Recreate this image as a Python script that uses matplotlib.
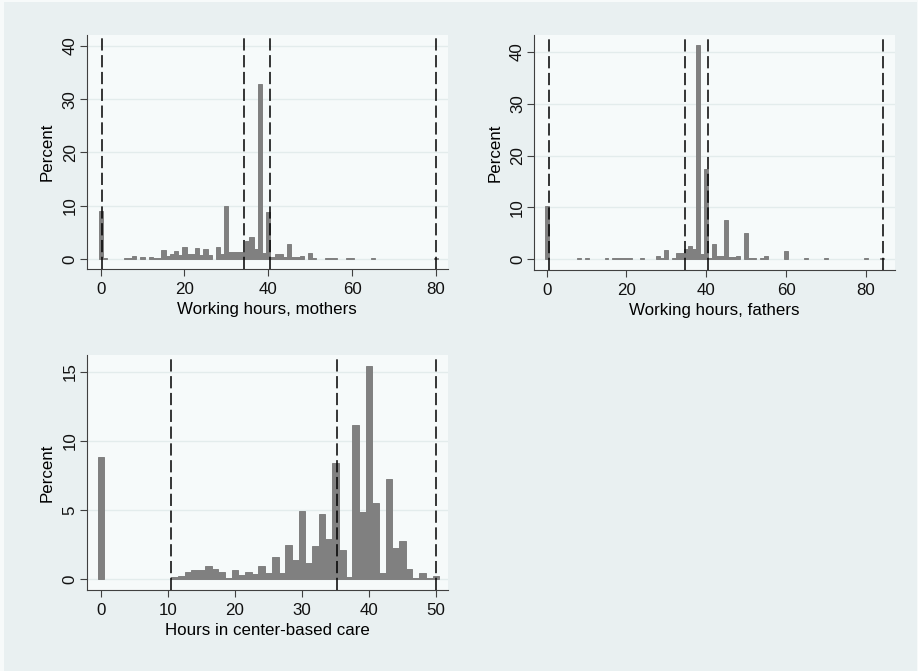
import matplotlib
matplotlib.use('Agg')
import matplotlib.pyplot as plt
from matplotlib.patches import Rectangle

plt.rcParams['font.family'] = ['Liberation Sans', 'DejaVu Sans']

mothers_hours = [0, 1, 6, 7, 8, 10, 12, 13, 14, 15, 16, 17, 18, 19, 20, 21, 22, 23,
                 24, 25, 26, 28, 29, 30, 31, 32, 33, 34, 35, 36, 37, 38, 39, 40, 41,
                 42, 43, 44, 45, 46, 47, 48, 50, 51, 54, 55, 56, 59, 60, 65, 80]
mothers_pct = [9.0, 0.25, 0.2, 0.25, 0.5, 0.3, 0.3, 0.15, 0.15, 1.7, 0.55, 0.95, 1.45,
               0.75, 2.2, 0.95, 0.95, 2.0, 0.8, 1.8, 0.75, 2.3, 0.9, 10.0, 1.2, 1.25,
               1.2, 1.2, 3.4, 4.1, 1.8, 32.8, 1.1, 8.75, 0.4, 0.95, 0.95, 0.3, 2.8,
               0.3, 0.3, 0.45, 1.05, 0.2, 0.2, 0.2, 0.2, 0.2, 0.2, 0.25, 0.2]
mothers_cuts = [0.3, 34.3, 40.3, 80.1]

fathers_hours = [0, 8, 10, 15, 17, 18, 19, 20, 21, 24, 28, 29, 30, 32, 33, 34, 35, 36,
                 37, 38, 39, 40, 41, 42, 43, 44, 45, 46, 47, 48, 50, 51, 52, 54, 55,
                 60, 65, 70, 80, 84]
fathers_pct = [10.2, 0.15, 0.15, 0.15, 0.15, 0.15, 0.15, 0.15, 0.15, 0.15, 0.58, 0.2,
               1.74, 0.3, 1.1, 1.2, 1.87, 2.58, 1.9, 41.3, 1.0, 17.4, 0.3, 2.9, 0.7,
               0.7, 7.55, 0.35, 0.35, 0.55, 5.1, 0.25, 0.25, 0.2, 0.55, 1.5, 0.2, 0.2,
               0.2, 0.3]
fathers_cuts = [0.6, 34.6, 40.5, 84.2]

care_hours = [0] + list(range(11, 51))
care_pct = [8.85, 0.15, 0.24, 0.48, 0.65, 0.65, 0.94, 0.75, 0.5, 0.05, 0.65, 0.27,
            0.5, 0.36, 0.94, 0.46, 1.62, 0.46, 2.48, 1.37, 4.94, 1.18, 2.41, 4.7,
            2.9, 8.42, 2.1, 0.17, 11.1, 4.82, 15.4, 5.47, 0.41, 7.23, 2.22, 2.77,
            0.75, 0.05, 0.41, 0.05, 0.24]
care_cuts = [10.45, 35.25, 50.0]

W, H = 918, 671
FS = 12.2
fig = plt.figure(figsize=(W / 100, H / 100), dpi=100, facecolor='#f7fafa')
fig.patches.append(Rectangle((4 / W, 0), 913 / W, 669 / H, transform=fig.transFigure,
                             facecolor='#e9f0f1', edgecolor='none', zorder=-10))


def draw_panel(box, hours, pct, cuts, xlim, ylim, xticks, yticks, xlabel):
    left, top, right, bottom = box
    ax = fig.add_axes([left / W, 1 - bottom / H, (right - left) / W, (bottom - top) / H])
    ax.set_facecolor('#f6fafa')
    ax.bar(hours, pct, width=1.0, color='#808080', edgecolor='#808080',
           linewidth=0.7, zorder=2)
    for c in cuts:
        ax.axvline(c, color='black', lw=1.1, dashes=(8, 3), zorder=3)
    ax.set_xlim(*xlim)
    ax.set_ylim(*ylim)
    ax.set_xticks(xticks)
    ax.set_yticks(yticks)
    for side in ['top', 'right']:
        ax.spines[side].set_visible(False)
    for side in ['left', 'bottom']:
        ax.spines[side].set_color('#404040')
        ax.spines[side].set_linewidth(0.8)
    ax.yaxis.grid(True, color='#e3ecec', lw=1.0)
    ax.set_axisbelow(True)
    ax.tick_params(length=5, width=0.8, color='#404040', labelsize=FS,
                   labelcolor='#111111')
    ax.tick_params(axis='x', pad=4.5)
    ax.tick_params(axis='y', pad=1.5)
    for lbl in ax.get_yticklabels():
        lbl.set_rotation(90)
        lbl.set_va('center')
    ax.set_ylabel('Percent', fontsize=FS, labelpad=5.5)
    ax.set_xlabel(xlabel, fontsize=FS, labelpad=3.5)
    return ax


draw_panel((86.7, 35, 448, 269), mothers_hours, mothers_pct, mothers_cuts,
           (-3.34, 82.9), (-1.9, 42.06), [0, 20, 40, 60, 80], [0, 10, 20, 30, 40],
           'Working hours, mothers')
draw_panel((534, 35, 895, 270), fathers_hours, fathers_pct, fathers_cuts,
           (-3.17, 87.3), (-2.1, 43.3), [0, 20, 40, 60, 80], [0, 10, 20, 30, 40],
           'Working hours, fathers')
draw_panel((86.7, 355, 448, 590), care_hours, care_pct, care_cuts,
           (-2.14, 51.8), (-0.8, 16.2), [0, 10, 20, 30, 40, 50], [0, 5, 10, 15],
           'Hours in center-based care')

fig.savefig('out.png', dpi=100, facecolor=fig.get_facecolor())
